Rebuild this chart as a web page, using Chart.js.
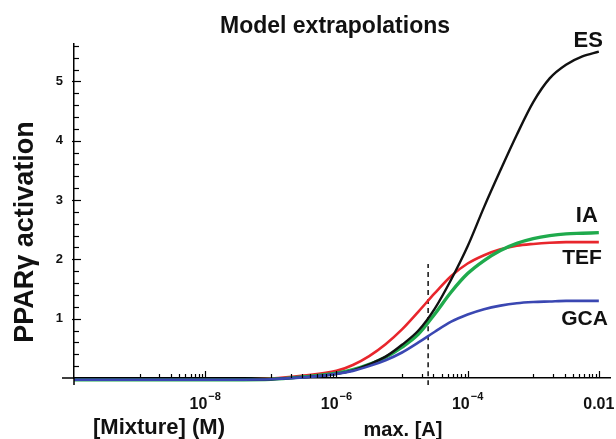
<!DOCTYPE html>
<html>
<head>
<meta charset="utf-8">
<script src="https://cdn.jsdelivr.net/npm/chart.js@4.4.1/dist/chart.umd.min.js"></script>
<style>
  html, body { margin: 0; padding: 0; background: #fff; }
</style>
</head>
<body>
<canvas id="myChart" width="616" height="439"></canvas>
<script>
// Концентрації суміші (M)
const concentrations = [1e-10, 1e-9, 1e-8, 1e-7, 3.16e-7, 1e-6, 1.78e-6, 3.16e-6, 5.62e-6, 1e-5, 1.78e-5,
  3.16e-5, 5.62e-5, 1e-4, 1.78e-4, 3.16e-4, 5.62e-4, 1e-3, 1.78e-3, 3.16e-3, 5.62e-3, 1e-2];

// Активація PPARγ для кожної моделі
const esValues  = [-0.03, -0.03, -0.03, -0.02, 0.01, 0.07, 0.13, 0.23, 0.36, 0.56, 0.80, 1.17, 1.66, 2.22, 2.88, 3.50, 4.10, 4.65, 5.05, 5.28, 5.42, 5.50];
const iaValues  = [-0.03, -0.03, -0.03, -0.02, 0.02, 0.08, 0.14, 0.23, 0.35, 0.52, 0.74, 1.08, 1.45, 1.76, 1.98, 2.15, 2.27, 2.35, 2.40, 2.43, 2.44, 2.45];
const tefValues = [-0.03, -0.03, -0.03, -0.01, 0.04, 0.12, 0.22, 0.37, 0.57, 0.82, 1.12, 1.43, 1.72, 1.93, 2.07, 2.17, 2.23, 2.26, 2.28, 2.29, 2.29, 2.29];
const gcaValues = [-0.03, -0.03, -0.03, -0.02, 0.01, 0.07, 0.12, 0.20, 0.30, 0.43, 0.60, 0.78, 0.95, 1.07, 1.16, 1.22, 1.26, 1.28, 1.29, 1.30, 1.30, 1.30];

// Вертикальна штрихова лінія max. [A]
const maxConc = [2.5e-5, 2.5e-5];
const maxLine = [-0.12, 1.92];

// Мітки осей
const xTickValues = [1e-8, 1e-6, 1e-4, 1e-2];
const xTickBases  = ['10', '10', '10', '0.01'];
const xTickExps   = ['−8', '−6', '−4', ''];
const yTickValues = [1, 2, 3, 4, 5];
const yTickLabels = ['1', '2', '3', '4', '5'];

const FONT = "'Liberation Sans', Arial, sans-serif";

function toPoints(xs, ys) {
  return xs.map((x, i) => ({ x: x, y: ys[i] }));
}

// Плагін: засічки всередину, підписи осі X, підписи кривих і тексти
const decorPlugin = {
  id: 'decor',
  afterDraw(chart) {
    const { ctx, chartArea } = chart;
    const x = chart.scales.x;
    const y = chart.scales.y;
    ctx.save();
    ctx.strokeStyle = '#000';
    ctx.lineWidth = 1.2;

    // продовження осей за початок координат
    ctx.lineWidth = 1.5;
    ctx.beginPath();
    ctx.moveTo(chartArea.left - 12, chartArea.bottom);
    ctx.lineTo(chartArea.left, chartArea.bottom);
    ctx.moveTo(chartArea.left, chartArea.bottom);
    ctx.lineTo(chartArea.left, chartArea.bottom + 7);
    ctx.stroke();
    ctx.lineWidth = 1.2;

    // засічки на осі Y
    for (let i = 1; i * 0.2 <= y.max + 1e-9; i++) {
      const py = Math.round(y.getPixelForValue(i * 0.2)) + 0.5;
      const major = i % 5 === 0;
      ctx.beginPath();
      ctx.moveTo(chartArea.left - (major ? 2 : 0), py);
      ctx.lineTo(chartArea.left + (major ? 7 : 5), py);
      ctx.stroke();
    }

    // засічки на осі X
    const drawXTick = (v, len) => {
      const px = Math.round(x.getPixelForValue(v)) + 0.5;
      ctx.beginPath();
      ctx.moveTo(px, chartArea.bottom);
      ctx.lineTo(px, chartArea.bottom - len);
      ctx.stroke();
    };
    [-9, -7, -5, -3].forEach(e => {
      for (let m = 1; m <= 9; m++) drawXTick(m * Math.pow(10, e), 4);
    });
    xTickValues.forEach(v => drawXTick(v, 7));

    ctx.fillStyle = '#111';
    ctx.textBaseline = 'alphabetic';

    // підписи поділок осі X зі степенями
    ctx.textAlign = 'left';
    xTickValues.forEach((v, i) => {
      const px = x.getPixelForValue(v);
      ctx.font = 'bold 16px ' + FONT;
      const wb = ctx.measureText(xTickBases[i]).width;
      ctx.font = 'bold 11px ' + FONT;
      const we = xTickExps[i] ? ctx.measureText(xTickExps[i]).width + 1 : 0;
      const left = px - (wb + we) / 2;
      ctx.font = 'bold 16px ' + FONT;
      ctx.fillText(xTickBases[i], left, 409);
      if (xTickExps[i]) {
        ctx.font = 'bold 11px ' + FONT;
        ctx.fillText(xTickExps[i], left + wb + 1, 400);
      }
    });

    // заголовок
    ctx.font = 'bold 23px ' + FONT;
    ctx.textAlign = 'center';
    ctx.fillText('Model extrapolations', 335, 33);

    // підпис осі Y
    ctx.save();
    ctx.translate(33, 232);
    ctx.rotate(-Math.PI / 2);
    ctx.font = 'bold 27px ' + FONT;
    ctx.fillText('PPARγ activation', 0, 0);
    ctx.restore();

    // підписи під віссю X
    ctx.font = 'bold 22px ' + FONT;
    ctx.textAlign = 'left';
    ctx.fillText('[Mixture] (M)', 93, 434);
    ctx.font = 'bold 20px ' + FONT;
    ctx.textAlign = 'center';
    ctx.fillText('max. [A]', 403, 436);

    // назви кривих
    ctx.textAlign = 'right';
    const endX = x.getPixelForValue(1e-2);
    ctx.font = 'bold 22px ' + FONT;
    ctx.fillText('ES', endX + 4, 47);
    ctx.fillText('IA', endX - 1, 222);
    ctx.font = 'bold 21px ' + FONT;
    ctx.fillText('TEF', endX + 3, 264);
    ctx.fillText('GCA', endX + 9, 325);
    ctx.restore();
  }
};

const ctx = document.getElementById('myChart').getContext('2d');

const myChart = new Chart(ctx, {
  type: 'line',
  data: {
    datasets: [
      { label: 'GCA', data: toPoints(concentrations, gcaValues), borderColor: '#3a47b2', borderWidth: 2.6 },
      { label: 'ES', data: toPoints(concentrations, esValues), borderColor: '#111111', borderWidth: 2.4 },
      { label: 'IA', data: toPoints(concentrations, iaValues), borderColor: '#1faa4c', borderWidth: 3.4 },
      { label: 'TEF', data: toPoints(concentrations, tefValues), borderColor: '#e8262c', borderWidth: 2.6 },
      { label: 'max. [A]', data: toPoints(maxConc, maxLine), borderColor: '#111111', borderWidth: 1.5, borderDash: [5, 4] }
    ]
  },
  options: {
    responsive: false,
    animation: false,
    datasets: {
      line: { pointRadius: 0, fill: false, cubicInterpolationMode: 'monotone', clip: false }
    },
    layout: { padding: { top: 44, right: 6, left: 0, bottom: 0 } },
    plugins: {
      legend: { display: false },
      title: { display: false },
      tooltip: { enabled: false }
    },
    scales: {
      x: {
        type: 'logarithmic',
        min: 1e-10,
        max: 0.0148,
        z: 1,
        grid: { display: false, drawTicks: false },
        border: { display: true, color: '#000', width: 1.5 },
        afterBuildTicks: scale => { scale.ticks = xTickValues.map(v => ({ value: v })); },
        afterFit: scale => { scale.height = 61; scale.paddingLeft = 0; scale.paddingRight = 0; },
        ticks: { display: false }
      },
      y: {
        min: 0,
        max: 5.63,
        z: 1,
        grid: { display: false, drawTicks: false },
        border: { display: true, color: '#000', width: 1.5 },
        afterBuildTicks: scale => { scale.ticks = yTickValues.map(v => ({ value: v })); },
        afterFit: scale => { scale.width = 74; scale.paddingTop = 0; scale.paddingBottom = 0; },
        ticks: {
          autoSkip: false,
          padding: 11,
          color: '#111',
          font: { family: FONT, size: 13, weight: 'bold' },
          callback: (value, index) => yTickLabels[index]
        }
      }
    }
  },
  plugins: [decorPlugin]
});
</script>
</body>
</html>
